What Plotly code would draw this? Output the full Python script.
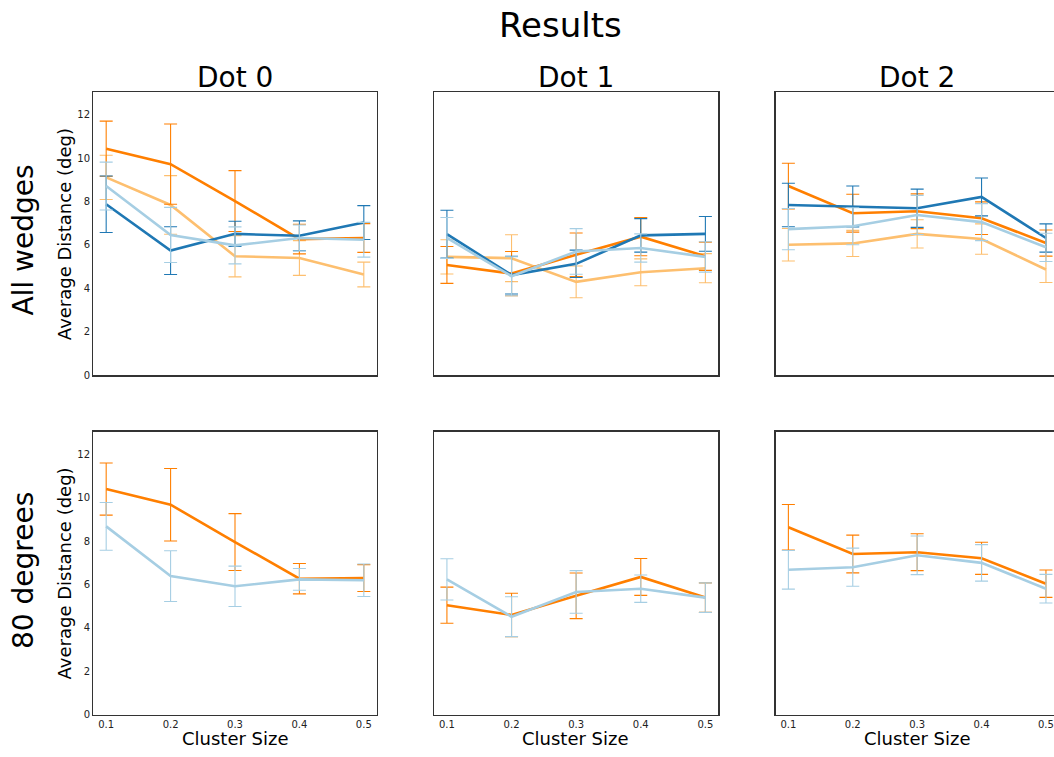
import plotly.graph_objects as go

W, H = 1054, 757

cluster_sizes = [0.1, 0.2, 0.3, 0.4, 0.5]
tick_labels = ["0.1", "0.2", "0.3", "0.4", "0.5"]
y_ticks = [0, 2, 4, 6, 8, 10, 12]

col_titles = ["Dot 0", "Dot 1", "Dot 2"]
row_titles = ["All wedges", "80 degrees"]

# ---- Row 1: All wedges ----
dot0_all_light_blue = [8.71, 6.46, 5.98, 6.32, 6.24]
dot0_all_light_blue_err = [1.10, 1.27, 0.85, 0.60, 0.80]
dot0_all_dark_blue = [7.87, 5.74, 6.51, 6.42, 7.03]
dot0_all_dark_blue_err = [1.30, 1.10, 0.58, 0.69, 0.78]
dot0_all_light_orange = [9.11, 7.84, 5.48, 5.40, 4.64]
dot0_all_light_orange_err = [1.02, 1.35, 0.95, 0.80, 0.57]
dot0_all_orange = [10.43, 9.72, 8.02, 6.27, 6.32]
dot0_all_orange_err = [1.27, 1.85, 1.40, 0.68, 0.66]

dot1_all_light_blue = [6.32, 4.56, 5.70, 5.86, 5.45]
dot1_all_light_blue_err = [0.94, 0.90, 1.05, 0.65, 0.70]
dot1_all_dark_blue = [6.50, 4.61, 5.13, 6.44, 6.51]
dot1_all_dark_blue_err = [1.10, 0.87, 0.63, 0.77, 0.80]
dot1_all_light_orange = [5.45, 5.39, 4.30, 4.74, 4.93]
dot1_all_light_orange_err = [0.79, 1.08, 0.73, 0.62, 0.67]
dot1_all_orange = [5.08, 4.68, 5.55, 6.38, 5.48]
dot1_all_orange_err = [0.85, 1.02, 1.00, 0.88, 0.65]

dot2_all_light_blue = [6.73, 6.86, 7.38, 7.05, 5.89]
dot2_all_light_blue_err = [0.95, 0.85, 0.90, 0.85, 0.65]
dot2_all_dark_blue = [7.84, 7.77, 7.69, 8.21, 6.32]
dot2_all_dark_blue_err = [1.00, 0.94, 0.88, 0.87, 0.65]
dot2_all_light_orange = [6.01, 6.07, 6.51, 6.27, 4.87]
dot2_all_light_orange_err = [0.75, 0.60, 0.65, 0.70, 0.60]
dot2_all_orange = [8.71, 7.46, 7.55, 7.23, 6.09]
dot2_all_orange_err = [1.05, 0.87, 0.80, 0.75, 0.60]

# ---- Row 2: 80 degrees ----
dot0_80_light_blue = [8.68, 6.39, 5.92, 6.24, 6.20]
dot0_80_light_blue_err = [1.10, 1.17, 0.93, 0.50, 0.75]
dot0_80_orange = [10.40, 9.68, 7.96, 6.27, 6.30]
dot0_80_orange_err = [1.20, 1.67, 1.31, 0.70, 0.62]

dot1_80_light_blue = [6.24, 4.52, 5.66, 5.81, 5.40]
dot1_80_light_blue_err = [0.95, 0.92, 0.98, 0.63, 0.68]
dot1_80_orange = [5.05, 4.60, 5.48, 6.35, 5.40]
dot1_80_orange_err = [0.83, 1.00, 1.05, 0.85, 0.68]

dot2_80_light_blue = [6.68, 6.80, 7.35, 7.00, 5.81]
dot2_80_light_blue_err = [0.89, 0.88, 0.89, 0.84, 0.66]
dot2_80_orange = [8.64, 7.41, 7.49, 7.21, 6.04]
dot2_80_orange_err = [1.05, 0.87, 0.85, 0.74, 0.63]

COLORS = {
    "light_blue": "#a6cee3",
    "dark_blue": "#1f78b4",
    "light_orange": "#fdbf6f",
    "orange": "#ff7f00",
}

# panel -> list of (series key, values, errors), in drawing order
panels = {
    (1, 1): [("light_orange", dot0_all_light_orange, dot0_all_light_orange_err),
             ("orange", dot0_all_orange, dot0_all_orange_err),
             ("dark_blue", dot0_all_dark_blue, dot0_all_dark_blue_err),
             ("light_blue", dot0_all_light_blue, dot0_all_light_blue_err)],
    (1, 2): [("light_orange", dot1_all_light_orange, dot1_all_light_orange_err),
             ("orange", dot1_all_orange, dot1_all_orange_err),
             ("dark_blue", dot1_all_dark_blue, dot1_all_dark_blue_err),
             ("light_blue", dot1_all_light_blue, dot1_all_light_blue_err)],
    (1, 3): [("light_orange", dot2_all_light_orange, dot2_all_light_orange_err),
             ("orange", dot2_all_orange, dot2_all_orange_err),
             ("dark_blue", dot2_all_dark_blue, dot2_all_dark_blue_err),
             ("light_blue", dot2_all_light_blue, dot2_all_light_blue_err)],
    (2, 1): [("orange", dot0_80_orange, dot0_80_orange_err),
             ("light_blue", dot0_80_light_blue, dot0_80_light_blue_err)],
    (2, 2): [("orange", dot1_80_orange, dot1_80_orange_err),
             ("light_blue", dot1_80_light_blue, dot1_80_light_blue_err)],
    (2, 3): [("orange", dot2_80_orange, dot2_80_orange_err),
             ("light_blue", dot2_80_light_blue, dot2_80_light_blue_err)],
}

# pixel geometry of the axes boxes
col_px = [(93.3, 376.7), (434.0, 718.3), (775.5, 1054.0)]
row_px = [(92.5, 378.3), (435.0, 720.5)]
x_ranges = [[0.08, 0.52], [0.08, 0.52], [0.08, 0.5125]]
y_range = [0, 13.05]
FULL_W = 283.4


def px(x):
    return x / W


def py(y):
    return 1 - y / H


FONT = "DejaVu Sans"
LINE_COLOR = "#333333"

fig = go.Figure()
layout = {}

for (r, c), series in panels.items():
    idx = (r - 1) * 3 + c
    xa = "xaxis" if idx == 1 else f"xaxis{idx}"
    ya = "yaxis" if idx == 1 else f"yaxis{idx}"
    xref = "x" if idx == 1 else f"x{idx}"
    yref = "y" if idx == 1 else f"y{idx}"
    x0, x1 = col_px[c - 1]
    y0, y1 = row_px[r - 1]
    for key, vals, errs in series:
        fig.add_trace(go.Scatter(
            x=cluster_sizes, y=vals, mode="lines",
            line=dict(color=COLORS[key], width=2.6),
            error_y=dict(type="data", array=errs, visible=True,
                         color=COLORS[key], thickness=1.1, width=6.5),
            xaxis=xref, yaxis=yref, showlegend=False, name=key,
        ))
    layout[xa] = dict(
        domain=[max(0, px(x0)), min(1, px(x1))], range=x_ranges[c - 1], anchor=yref,
        tickvals=cluster_sizes, ticktext=tick_labels,
        showticklabels=(r == 2), ticks="", showgrid=False, zeroline=False,
        showline=True, mirror=True, linecolor=LINE_COLOR, linewidth=1.2,
        tickfont=dict(family=FONT, size=10, color="#222222"),
    )
    layout[ya] = dict(
        domain=[py(y1), py(y0)], range=y_range, anchor=xref,
        tickvals=y_ticks, showticklabels=(c == 1), ticks="",
        showgrid=False, zeroline=False,
        showline=True, mirror=(c != 3), linecolor=LINE_COLOR, linewidth=1.2,
        tickfont=dict(family=FONT, size=10, color="#222222"),
    )

annotations = []
annotations.append(dict(text="Results", x=px(560.5), y=py(25), xref="paper", yref="paper",
                        xanchor="center", yanchor="middle", showarrow=False,
                        font=dict(family=FONT, size=34, color="#000000")))
for i, t in enumerate(col_titles):
    cx = col_px[i][0] + FULL_W / 2
    annotations.append(dict(text=t, x=px(cx), y=py(78), xref="paper", yref="paper",
                            xanchor="center", yanchor="middle", showarrow=False,
                            font=dict(family=FONT, size=28, color="#000000")))
row_centers = [242, 575]
for i, t in enumerate(row_titles):
    annotations.append(dict(text=t, x=px(23.5), y=py(row_centers[i]), xref="paper", yref="paper",
                            xanchor="center", yanchor="middle", showarrow=False, textangle=-90,
                            font=dict(family=FONT, size=28, color="#000000")))
ylab_centers = [236, 578]
for yc in ylab_centers:
    annotations.append(dict(text="Average Distance (deg)", x=px(64), y=py(yc),
                            xref="paper", yref="paper", xanchor="center", yanchor="middle",
                            showarrow=False, textangle=-90,
                            font=dict(family=FONT, size=18, color="#000000")))
for i in range(3):
    cx = col_px[i][0] + FULL_W / 2
    annotations.append(dict(text="Cluster Size", x=px(cx), y=py(744.5), xref="paper", yref="paper",
                            xanchor="center", yanchor="middle", showarrow=False,
                            font=dict(family=FONT, size=18, color="#000000")))

fig.update_layout(
    width=W, height=H,
    margin=dict(l=0, r=0, t=0, b=0),
    paper_bgcolor="white", plot_bgcolor="white",
    font=dict(family=FONT),
    annotations=annotations,
    **layout,
)

# pin the figure to the window's top-left corner so it fills the window exactly
fig.write_html(
    "out.html",
    config={"displayModeBar": False, "staticPlot": True},
    post_script=(
        "document.body.style.margin='0';"
        "document.body.style.overflow='hidden';"
        "var d=document.getElementById('{plot_id}');"
        "d.style.position='fixed';d.style.top='0px';d.style.left='0px';"
    ),
)
